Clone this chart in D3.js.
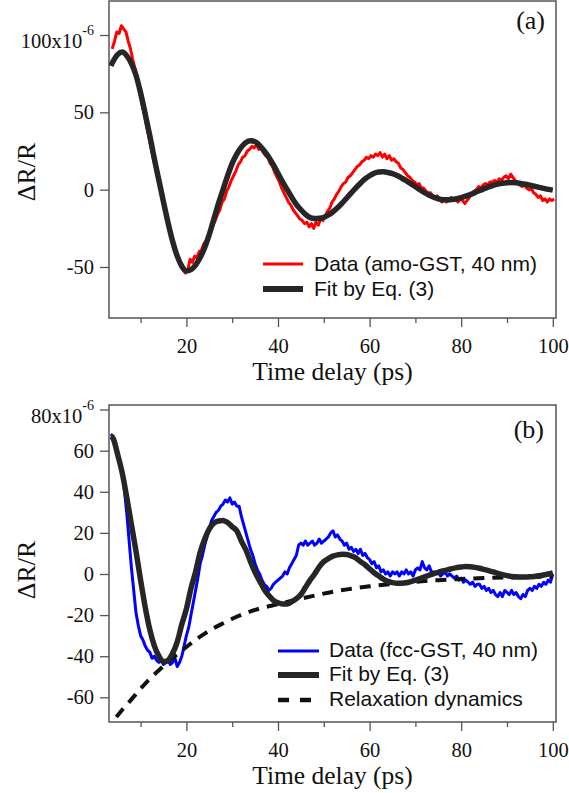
<!DOCTYPE html>
<html>
<head>
<meta charset="utf-8">
<script src="https://cdn.jsdelivr.net/npm/d3@7"></script>
<style>
  html, body { margin: 0; padding: 0; background: #fff; }
  svg { display: block; }
</style>
</head>
<body>
<div id="root"></div>
<script>
// values (time in ps, dR/R in 1e-6)

// panel (a): data sampled every 0.5 ps from 3.8 ps
const dataA_t0 = 3.8;
const dataA_step = 0.5;
const dataA = [
  91, 96, 102, 101, 106, 104, 102, 96, 91, 84, 78, 70, 64, 56, 49, 41, 34, 27, 20, 13,
  6, 0, -7, -13, -19, -26, -31, -37, -42, -46, -50, -52, -54, -52, -45, -47, -43, -44, -40, -39,
  -35, -33, -29, -27, -23, -20, -16, -13, -8, -6, -1, 2, 6, 9, 12, 16, 18, 21, 22, 25,
  26, 28, 27, 29, 26, 27, 24, 22, 21, 17, 15, 11, 8, 5, 1, -2, -5, -8, -10, -13,
  -15, -17, -19, -20, -22, -21, -24, -22, -25, -21, -23, -19, -20, -17, -14, -12, -8, -6, -3, -1,
  2, 4, 5, 8, 9, 11, 13, 15, 16, 18, 19, 21, 20, 22, 21, 23, 22, 24, 21, 23,
  20, 22, 19, 20, 18, 17, 14, 13, 11, 9, 8, 6, 5, 3, 4, 1, 1, -1, -2, -2,
  -4, -5, -4, -6, -8, -6, -8, -7, -5, -7, -6, -8, -6, -7, -9, -7, -5, -3, -1, 0,
  2, 1, 3, 4, 3, 5, 5, 6, 5, 7, 6, 8, 9, 7, 10, 8, 6, 4, 3, 2,
  3, 1, 0, 1, -2, -3, -5, -4, -7, -6, -8, -6, -7, -6
];

// panel (a): fit, one value per ps from 4 ps (plus start point)
const fitA_start = [3.5, 80];
const fitA_t0 = 4;
const fitA = [
  83, 87.5, 89, 86.5, 81.5, 74, 62.5, 49, 35, 20, 6, -8, -21.5, -33.5, -43, -49.5, -52.5,
  -51.7, -48.8, -43.9, -37.4, -29, -19, -9, 0, 9, 17, 23, 27.5, 30.5, 31.6,
  31, 28.5, 25, 21, 16, 10.5, 5, 0, -5, -9.5, -13, -16, -18, -18.7, -18.5,
  -17.9, -16.4, -14.3, -11.7, -8.7, -5.4, -2.1, 1.2, 4.2, 6.9, 9, 10.6, 11.4, 11.5,
  11.1, 10.3, 9.1, 7.5, 5.8, 3.8, 1.9, -0.1, -2, -3.6, -4.9, -5.9, -6.5, -6.6,
  -6.4, -5.9, -5.2, -4.2, -3.1, -1.9, -0.6, 0.6, 1.8, 2.8, 3.6, 4.2, 4.5, 4.6,
  4.4, 4.0, 3.5, 2.9, 2.2, 1.5, 0.8, 0.2, -0.3
];

// panel (b): data sampled every 0.5 ps from 3.5 ps
const dataB_t0 = 3.5;
const dataB_step = 0.5;
const dataB = [
  68, 67, 63, 58, 54, 50, 40, 29, 16, 3, -8, -19, -25, -30, -32, -35, -37, -38, -41, -40,
  -42, -43, -42, -44, -43, -42, -44, -43, -41, -45, -43, -40, -35, -30, -26, -20, -14, -8, -2, 5,
  9, 14, 18, 22, 26, 28, 30, 31, 33, 34, 36, 35, 37, 34, 35, 33, 33, 28, 24, 20,
  16, 12, 9, 5, 2, 0, -3, -5, -6, -8, -7, -5, -4, -3, -2, -1, 1, 0, 3, 5,
  7, 9, 14, 15, 14, 16, 14, 15, 16, 14, 15, 17, 15, 16, 17, 18, 20, 21, 18, 19,
  17, 16, 14, 15, 12, 13, 11, 12, 10, 12, 9, 10, 8, 7, 5, 6, 3, 4, 1, 2,
  0, 1, -1, 1, 0, 1, -1, 1, 0, 2, 0, 1, -1, 2, 3, 2, 6, 3, 2, 4,
  1, 1, 0, 1, -1, 0, 1, -1, 0, -1, -2, -1, -3, -2, -4, -3, -4, -5, -4, -6,
  -5, -5, -7, -6, -8, -7, -9, -8, -10, -11, -9, -11, -8, -9, -10, -8, -10, -9, -11, -12,
  -10, -11, -8, -7, -8, -6, -7, -5, -6, -4, -5, -3, -4, 0
];

// panel (b): fit, one value per ps from 4 ps (plus start point)
const fitB_start = [3.5, 67];
const fitB_t0 = 4;
const fitB = [
  66, 58, 49, 37, 24, 11, -3, -16, -27, -35, -40, -42.7, -42, -38.6, -33, -24.5, -17,
  -7, 1, 10.5, 17, 22, 24.7, 25.8, 26, 25, 23, 21, 16, 11.7, 6, 0.8, -3.5, -7.5,
  -10.5, -12.8, -14, -14.6, -14.6, -13.5, -12, -10, -6.5, -3, 0, 3.5, 6, 7.5, 8.7,
  9.3, 9.6, 9.5, 8.8, 7.8, 6, 4.5, 2.5, 0.6, -1, -2.5, -3.6, -4.2, -4.5, -4.5, -4.3,
  -3.7, -3, -2.2, -1.4, -0.6, 0.2, 0.8, 1.5, 2, 2.6, 3.1, 3.4, 3.6, 3.5, 3.2, 2.8,
  2.2, 1.6, 1.0, 0.3, -0.3, -0.8, -1.2, -1.4, -1.5, -1.5, -1.4, -1.2, -0.9, -0.5, 0, 0.6
];

// panel (b): relaxation dynamics
const relaxT = [4.7, 6, 8, 10, 12, 14, 16, 18, 20, 22, 24, 26, 28, 30, 33, 36, 40, 44, 48, 52, 56, 60, 65, 70, 75, 80, 85, 90, 95, 100];
const relaxV = [-69.6, -66, -61, -55.8, -51, -46.8, -42.8, -39, -35.5, -32, -29, -26.3, -24, -21.8, -19, -16.8, -14.7, -12.5, -10.5, -8.6, -7.2, -6, -4.8, -3.8, -3, -2.4, -2, -1.7, -1.5, -1.3];

const xMajor = [20, 40, 60, 80, 100];
const xMinor = [10, 30, 50, 70, 90];
const yTicksA = [-50, 0, 50, 100];
const yTicksB = [-60, -40, -20, 0, 20, 40, 60, 80];

const legendA = ['Data (amo-GST, 40 nm)', 'Fit by Eq. (3)'];
const legendB = ['Data (fcc-GST, 40 nm)', 'Fit by Eq. (3)', 'Relaxation dynamics'];

const W = 569, H = 793;
const LEFT = 109, RIGHT = 556;
const SERIF = '"Liberation Serif", "Times New Roman", serif';
const SANS = '"Liberation Sans", Arial, sans-serif';
const FRAME = '#555';
const FIT = '#262626';

const sampled = (t0, step, vals) => vals.map((v, i) => [t0 + i * step, v]);
const plain = d => String(d); // keep the short hyphen of the original

const svg = d3.select('#root').append('svg')
  .attr('width', W).attr('height', H)
  .attr('viewBox', `0 0 ${W} ${H}`);

const x = d3.scaleLinear().domain([3.1, 100.7]).range([LEFT, RIGHT]);

const drawPanel = (opt) => {
  const { top, bottom, ydom, yticks, id } = opt;
  const y = d3.scaleLinear().domain(ydom).range([bottom, top]);
  const g = svg.append('g');

  g.append('clipPath').attr('id', 'clip-' + id)
    .append('rect').attr('x', LEFT).attr('y', top)
    .attr('width', RIGHT - LEFT).attr('height', bottom - top);

  // x axis: majors with labels, minors shorter
  const xa = g.append('g').attr('transform', `translate(0,${bottom})`)
    .call(d3.axisBottom(x).tickValues(xMajor).tickSize(9).tickPadding(11).tickFormat(plain));
  g.append('g').attr('transform', `translate(0,${bottom})`)
    .call(d3.axisBottom(x).tickValues(xMinor).tickSize(5).tickFormat(''))
    .call(s => s.select('.domain').remove());

  const ya = g.append('g').attr('transform', `translate(${LEFT},0)`)
    .call(d3.axisLeft(y).tickValues(yticks).tickSize(9).tickPadding(6).tickFormat(plain));

  [xa, ya].forEach(a => {
    a.select('.domain').remove();
    a.selectAll('.tick text').attr('fill', '#111')
      .style('font-family', SERIF).style('font-size', '20.5px');
  });
  g.selectAll('.tick line').attr('stroke', FRAME).attr('stroke-width', 1.3);

  // top y label carries the exponent
  const topTick = yticks[yticks.length - 1];
  const tt = ya.selectAll('.tick').filter(d => d === topTick).select('text');
  tt.text(null).attr('dy', null).attr('y', opt.topLabelDy);
  tt.append('tspan').text(topTick + 'x10');
  tt.append('tspan').attr('dy', -13).style('font-size', '14px').text('-6');

  // frame
  g.append('rect').attr('x', LEFT).attr('y', top)
    .attr('width', RIGHT - LEFT).attr('height', bottom - top)
    .attr('fill', 'none').attr('stroke', FRAME).attr('stroke-width', 1.5);

  // titles
  g.append('text').attr('x', (LEFT + RIGHT) / 2).attr('y', bottom + 62)
    .attr('text-anchor', 'middle').style('font-family', SERIF).style('font-size', '25.5px')
    .attr('fill', '#111').text('Time delay (ps)');
  g.append('text').attr('transform', `translate(35,${opt.ylabelY}) rotate(-90)`)
    .attr('text-anchor', 'middle').style('font-family', SERIF).style('font-size', '26px')
    .attr('fill', '#111').text('\u0394R/R');
  g.append('text').attr('x', opt.tagX).attr('y', opt.tagY)
    .attr('text-anchor', 'end').style('font-family', SERIF).style('font-size', '26px')
    .attr('fill', '#111').text(opt.tag);

  const line = d3.line().x(d => x(d[0])).y(d => y(d[1]));
  const plot = g.append('g').attr('clip-path', `url(#clip-${id})`);
  return { y, plot, line, g };
};

// ---- panel (a)
const pa = drawPanel({ id: 'a', top: 1, bottom: 318, ydom: [-83, 122], yticks: yTicksA,
  topLabelDy: 12.5, ylabelY: 172, tag: '(a)', tagX: 545, tagY: 29 });

pa.plot.append('path').datum(sampled(dataA_t0, dataA_step, dataA))
  .attr('d', pa.line).attr('fill', 'none').attr('stroke', '#ff0000')
  .attr('stroke-width', 3).attr('stroke-linejoin', 'round');
pa.plot.append('path').datum([fitA_start].concat(sampled(fitA_t0, 1, fitA)))
  .attr('d', pa.line.curve(d3.curveMonotoneX)).attr('fill', 'none').attr('stroke', FIT)
  .attr('stroke-width', 5.5).attr('stroke-linejoin', 'round');

const legA = pa.g.append('g');
[['#ff0000', 3], [FIT, 6]].forEach((s, i) => {
  const yy = 264 + i * 25;
  legA.append('line').attr('x1', 263).attr('x2', 303).attr('y1', yy).attr('y2', yy)
    .attr('stroke', s[0]).attr('stroke-width', s[1]);
  legA.append('text').attr('x', 314).attr('y', yy + 7)
    .style('font-family', SANS).style('font-size', '21px').attr('fill', '#111')
    .text(legendA[i]);
});

// ---- panel (b)
const pb = drawPanel({ id: 'b', top: 405, bottom: 722, ydom: [-72, 82.2], yticks: yTicksB,
  topLabelDy: 12.5, ylabelY: 570, tag: '(b)', tagX: 544, tagY: 438 });

pb.plot.append('path').datum(sampled(dataB_t0, dataB_step, dataB))
  .attr('d', pb.line).attr('fill', 'none').attr('stroke', '#0000ff')
  .attr('stroke-width', 3).attr('stroke-linejoin', 'round');
pb.plot.append('path').datum(relaxT.map((t, i) => [t, relaxV[i]]))
  .attr('d', pb.line.curve(d3.curveMonotoneX)).attr('fill', 'none').attr('stroke', '#111')
  .attr('stroke-width', 4).attr('stroke-dasharray', '11,8');
pb.plot.append('path').datum([fitB_start].concat(sampled(fitB_t0, 1, fitB)))
  .attr('d', pb.line.curve(d3.curveMonotoneX)).attr('fill', 'none').attr('stroke', FIT)
  .attr('stroke-width', 5.5).attr('stroke-linejoin', 'round');

const legB = pb.g.append('g');
const legStyles = [['#0000ff', 3, null], [FIT, 6, null], ['#111', 4.5, '11,11']];
const legRows = [651, 675, 700];
legStyles.forEach((s, i) => {
  const yy = legRows[i];
  legB.append('line').attr('x1', 278).attr('x2', 319).attr('y1', yy).attr('y2', yy)
    .attr('stroke', s[0]).attr('stroke-width', s[1]).attr('stroke-dasharray', s[2]);
  legB.append('text').attr('x', 329).attr('y', yy + 6)
    .style('font-family', SANS).style('font-size', '21px').attr('fill', '#111')
    .text(legendB[i]);
});
</script>
</body>
</html>
